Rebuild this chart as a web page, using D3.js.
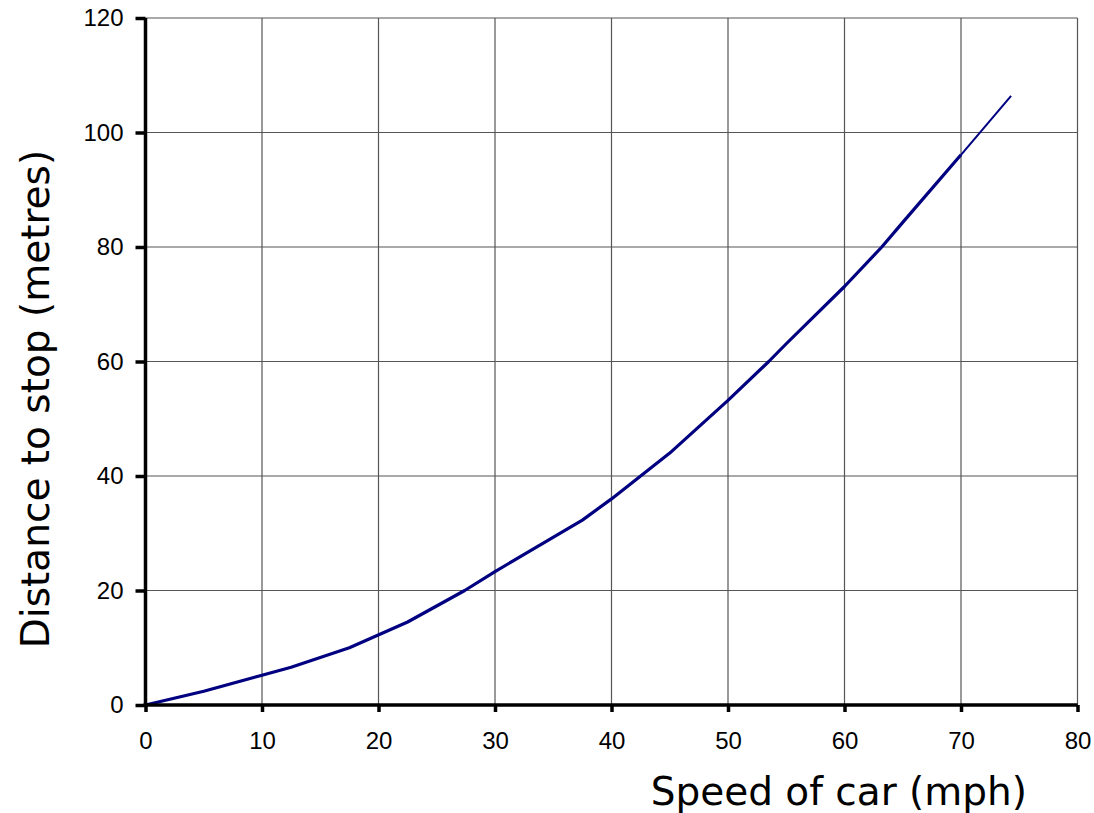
<!DOCTYPE html>
<html>
<head>
<meta charset="utf-8">
<script src="https://cdn.jsdelivr.net/npm/d3@7"></script>
<style>
  html, body { margin: 0; padding: 0; background: #fff; }
  svg { display: block; }
</style>
</head>
<body>
<svg id="chart" width="1094" height="813"></svg>
<script>
// Data
const speedsMph = [0, 5, 10, 12.5, 17.5, 22.5, 27.4, 30, 37.5, 40, 45, 50, 53.5, 55, 60, 63.2, 65, 70];
const stopDistM = [0, 2.4, 5.2, 6.6, 10, 14.5, 20, 23.3, 32.3, 36, 44, 53.2, 60, 63.1, 73.1, 80, 84.3, 96.1];
const extSpeeds = [70, 74.3];
const extDist = [96.1, 106.4];
const xTicks = [0, 10, 20, 30, 40, 50, 60, 70, 80];
const yTicks = [0, 20, 40, 60, 80, 100, 120];
const xTitle = "Speed of car (mph)";
const yTitle = "Distance to stop (metres)";

const svg = d3.select("#chart");
const plotL = 145.5, plotR = 1077.5, plotT = 18, plotB = 705;

const x = d3.scaleLinear().domain([0, 80]).range([plotL, plotR]);
const y = d3.scaleLinear().domain([0, 120]).range([plotB, plotT]);

// Grid lines
const grid = svg.append("g");
grid.selectAll("line.v").data(xTicks.filter(d => d > 0)).enter().append("line")
  .attr("x1", d => x(d)).attr("x2", d => x(d))
  .attr("y1", plotT).attr("y2", plotB)
  .attr("stroke", "#555").attr("stroke-width", 1.2);
grid.selectAll("line.h").data(yTicks.filter(d => d > 0)).enter().append("line")
  .attr("x1", plotL).attr("x2", plotR)
  .attr("y1", d => y(d)).attr("y2", d => y(d))
  .attr("stroke", "#555").attr("stroke-width", 1.2);

// Series
const main = speedsMph.map((s, i) => [s, stopDistM[i]]);
const ext = extSpeeds.map((s, i) => [s, extDist[i]]);
const line = d3.line().x(d => x(d[0])).y(d => y(d[1]));

svg.append("path").datum(main).attr("d", line)
  .attr("fill", "none").attr("stroke", "#000080").attr("stroke-width", 3.2)
  .attr("stroke-linejoin", "round");
svg.append("path").datum(ext).attr("d", line)
  .attr("fill", "none").attr("stroke", "#000080").attr("stroke-width", 2);

// Axes
const xAxis = d3.axisBottom(x).tickValues(xTicks).tickSize(7).tickPadding(20).tickSizeOuter(0);
const yAxis = d3.axisLeft(y).tickValues(yTicks).tickSize(10).tickPadding(12).tickSizeOuter(0);

const gx = svg.append("g").attr("transform", `translate(0,${plotB})`).call(xAxis);
const gy = svg.append("g").attr("transform", `translate(${plotL},0)`).call(yAxis);

[gx, gy].forEach(g => {
  g.select(".domain").attr("stroke", "#000").attr("stroke-width", 3.5);
  g.selectAll(".tick line").attr("stroke", "#000").attr("stroke-width", 3.5);
  g.selectAll(".tick text")
    .attr("fill", "#000")
    .style("font-family", "'Liberation Sans', Arial, sans-serif")
    .style("font-size", "24px");
});
gx.select(".domain").attr("d", `M${plotL - 2},0H${plotR}`);
gy.select(".domain").attr("d", `M0,${plotT}V${plotB + 2}`);

// Axis titles
svg.append("text")
  .attr("x", 1027).attr("y", 805)
  .attr("text-anchor", "end")
  .style("font-family", "'DejaVu Sans', sans-serif")
  .style("font-size", "39px")
  .attr("fill", "#000")
  .text(xTitle);

svg.append("text")
  .attr("transform", "translate(49,399) rotate(-90)")
  .attr("text-anchor", "middle")
  .style("font-family", "'DejaVu Sans', sans-serif")
  .style("font-size", "39px")
  .attr("fill", "#000")
  .text(yTitle);
</script>
</body>
</html>
